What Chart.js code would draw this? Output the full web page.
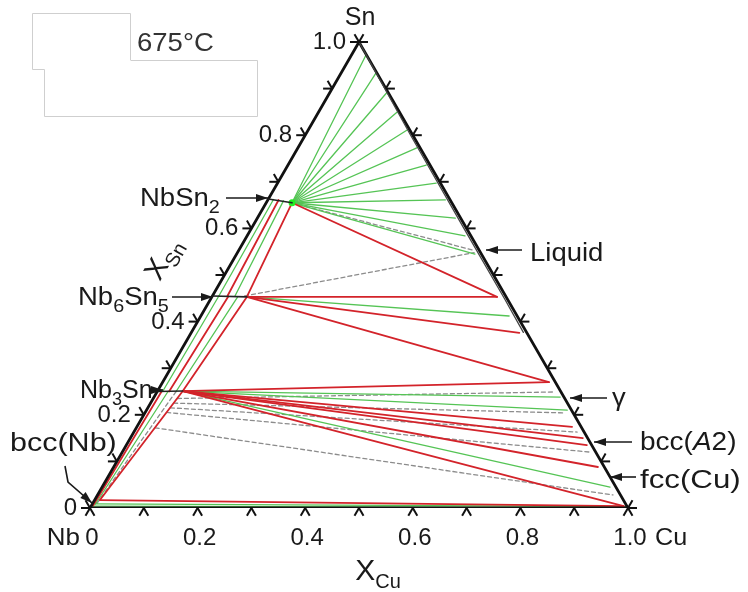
<!DOCTYPE html>
<html>
<head>
<meta charset="utf-8">
<script src="https://cdn.jsdelivr.net/npm/chart.js@4.4.0/dist/chart.umd.min.js"></script>
<style>
  html, body { margin: 0; padding: 0; background: #fff; }
  canvas { display: block; }
</style>
</head>
<body>
<canvas id="chart" width="748" height="592"></canvas>
<script>
// Ternary Nb–Cu–Sn isothermal section, 675°C. Points are [xCu, xSn].
const H = Math.sqrt(3) / 2;

// ── Phase vertices ──────────────────────────────────────────────────────────
const vNbSn2  = [0.048, 0.655];
const vNb6Sn5 = [0.065, 0.453];
const vNb3Sn  = [0.047, 0.251];
const vBcc    = [0.010, 0.017];
const vLiq    = [0.530, 0.453];
const vGamma  = [0.718, 0.270];
const vFcc    = [0.990, 0.004];

const liquidLine = [[0, 1], [0.196, 0.800], [0.395, 0.600], [0.545, 0.450], [0.617, 0.377]];

// tie-line ends (other end is the named vertex)
const greenFromNbSn2 = [
  [0.027, 0.972], [0.065, 0.933], [0.106, 0.891], [0.146, 0.850], [0.184, 0.811],
  [0.221, 0.773], [0.257, 0.736], [0.295, 0.697], [0.330, 0.661], [0.368, 0.622],
  [0.405, 0.584], [0.443, 0.545]
];
const redFromNb6Sn5   = [vLiq, [0.610, 0.376], vGamma];
const greenFromNb6Sn5 = [[0.573, 0.412]];
const redFromNb3Sn    = [vGamma, [0.809, 0.174], [0.841, 0.150], [0.856, 0.135], [0.900, 0.088], vFcc, vBcc, vNb6Sn5];
const greenFromNb3Sn  = [[0.755, 0.238], [0.782, 0.210], [0.944, 0.045]];

const redTies = [
  [vNbSn2, vNb6Sn5], [vNbSn2, vLiq], [vBcc, vFcc],
  [[0.020, 0.661], [0.028, 0.455]],
  [[0.030, 0.454], [0.022, 0.250]],
  [[0.008, 0.250], [0.003, 0.005]]
];
const greenTies = [
  [[0.010, 0.662], [0.012, 0.455]],
  [[0.030, 0.659], [0.042, 0.454]],
  [[0.012, 0.455], [0.010, 0.250]],
  [[0.048, 0.453], [0.035, 0.250]],
  [[0.020, 0.250], [0.006, 0.008]],
  [[0.006, 0.009], [0.995, 0.003]],
  [[0.004, 0.004], [0.996, 0.001]]
];
const dashedTies = [
  [vNbSn2, [0.437, 0.553]],
  [[0.060, 0.455], [0.440, 0.548]],
  [[0.035, 0.250], [0.008, 0.010]],
  [[0.045, 0.235], [0.740, 0.249]],
  [[0.043, 0.225], [0.781, 0.204]],
  [[0.042, 0.215], [0.824, 0.163]],
  [[0.040, 0.205], [0.869, 0.120]],
  [[0.035, 0.172], [0.958, 0.028]]
];
const phaseBars = [
  [[0, 0.663], vNbSn2],
  [[0, 0.455], vNb6Sn5],
  [[0, 0.250], vNb3Sn]
];

const tickValues  = [0, 0.1, 0.2, 0.3, 0.4, 0.5, 0.6, 0.7, 0.8, 0.9, 1.0];
const tickLabels  = ["0", "0.2", "0.4", "0.6", "0.8", "1.0"];
const labelValues = [0, 0.2, 0.4, 0.6, 0.8, 1.0];

// ── Helpers ────────────────────────────────────────────────────────────────
function tern(p) { return { x: p[0] + p[1] / 2, y: p[1] * H }; }

const RED   = { borderColor: "#d3232a", borderWidth: 1.8, order: 1 };
const GREEN = { borderColor: "#55c455", borderWidth: 1.3, order: 2 };
const DASH  = { borderColor: "#8c8c8c", borderWidth: 1.3, borderDash: [4, 3], order: 3 };

function line(points, style) {
  return Object.assign({ data: points.map(tern), showLine: true, pointRadius: 0, fill: false, tension: 0 }, style);
}

const datasets = [];
redTies.forEach((s) => datasets.push(line(s, RED)));
redFromNb6Sn5.forEach((p) => datasets.push(line([vNb6Sn5, p], RED)));
redFromNb3Sn.forEach((p) => datasets.push(line([vNb3Sn, p], RED)));
greenTies.forEach((s) => datasets.push(line(s, GREEN)));
greenFromNbSn2.forEach((p) => datasets.push(line([vNbSn2, p], GREEN)));
greenFromNb6Sn5.forEach((p) => datasets.push(line([vNb6Sn5, p], GREEN)));
greenFromNb3Sn.forEach((p) => datasets.push(line([vNb3Sn, p], GREEN)));
dashedTies.forEach((s) => datasets.push(line(s, DASH)));
phaseBars.forEach((s) => datasets.push(line(s, { borderColor: "#222", borderWidth: 1.6, order: 0 })));
datasets.push(line(liquidLine, { borderColor: "#444", borderWidth: 1.3, order: 0 }));
datasets.push(line([[0, 0], [1, 0], [0, 1], [0, 0]], { borderColor: "#111", borderWidth: 2.8, order: 0 }));
datasets.push({ data: [tern(vNbSn2)], pointRadius: 3.5, pointBackgroundColor: "#22ee22", pointBorderWidth: 0, order: 0 });

// ── Text / ticks ─────────────────────────────────────────────────────────────
const FAMILY = '"Liberation Sans", Arial, sans-serif';

function runs(ctx, list, x, y, align, sx) {
  sx = sx || 1;
  const fontOf = (r) => `${r[3] ? "italic " : ""}${r[1]}px ${FAMILY}`;
  let w = 0;
  list.forEach((r) => { ctx.font = fontOf(r); w += ctx.measureText(r[0]).width; });
  const x0 = align === "right" ? x - w * sx : align === "center" ? x - w * sx / 2 : x;
  ctx.save();
  ctx.translate(x0, y);
  ctx.scale(sx, 1);
  let cx = 0;
  list.forEach((r) => {
    ctx.font = fontOf(r);
    ctx.fillText(r[0], cx, r[2] || 0);
    cx += ctx.measureText(r[0]).width;
  });
  ctx.restore();
}

function arrow(ctx, pts) {
  ctx.beginPath();
  ctx.moveTo(pts[0][0], pts[0][1]);
  for (let i = 1; i < pts.length; i++) ctx.lineTo(pts[i][0], pts[i][1]);
  ctx.stroke();
  const [x1, y1] = pts[pts.length - 2], [x2, y2] = pts[pts.length - 1];
  const a = Math.atan2(y2 - y1, x2 - x1);
  ctx.beginPath();
  ctx.moveTo(x2, y2);
  ctx.lineTo(x2 - 12 * Math.cos(a) + 4 * Math.sin(a), y2 - 12 * Math.sin(a) - 4 * Math.cos(a));
  ctx.lineTo(x2 - 12 * Math.cos(a) - 4 * Math.sin(a), y2 - 12 * Math.sin(a) + 4 * Math.cos(a));
  ctx.closePath();
  ctx.fill();
}

const decor = {
  id: "decor",
  beforeDraw(chart) {
    const ctx = chart.ctx;
    ctx.save();
    ctx.fillStyle = "#fff";
    ctx.fillRect(0, 0, chart.width, chart.height);
    ctx.strokeStyle = "#cfcfcf";
    ctx.lineWidth = 1;
    ctx.beginPath();
    ctx.moveTo(130.5, 60); ctx.lineTo(130.5, 13.5); ctx.lineTo(32.5, 13.5); ctx.lineTo(32.5, 69.5); ctx.lineTo(44.5, 69.5);
    ctx.moveTo(130.5, 60.5); ctx.lineTo(257.5, 60.5); ctx.lineTo(257.5, 116.5); ctx.lineTo(44.5, 116.5); ctx.lineTo(44.5, 69.5);
    ctx.stroke();
    ctx.restore();
  },
  afterDraw(chart) {
    const ctx = chart.ctx;
    const sx = chart.scales.x, sy = chart.scales.y;
    const P = (c, s) => ({ x: sx.getPixelForValue(c + s / 2), y: sy.getPixelForValue(s * H) });
    ctx.save();
    ctx.strokeStyle = "#111";
    ctx.lineWidth = 2;
    const L = 9, cs = 0.5, sn = H;
    const tick = (p, dirs) => {
      dirs.forEach(([dx, dy]) => {
        ctx.beginPath(); ctx.moveTo(p.x, p.y); ctx.lineTo(p.x + dx * L, p.y + dy * L); ctx.stroke();
      });
    };
    tickValues.forEach((v) => {
      tick(P(v, 0), [[-cs, sn], [cs, sn]]);
      tick(P(0, v), [[-1, 0], [-cs, -sn]]);
      tick(P(1 - v, v), [[1, 0], [cs, -sn]]);
    });

    ctx.fillStyle = "#1a1a1a";
    labelValues.forEach((v, i) => {
      const b = P(v, 0);
      runs(ctx, [[tickLabels[i], 24]], b.x + 2, 545, "center");
      const l = P(0, v);
      runs(ctx, [[tickLabels[i], 24]], l.x - 13, l.y + 7, "right");
    });

    // corners
    runs(ctx, [["Sn", 25]], 360, 25, "center");
    runs(ctx, [["Nb", 24]], 80, 545, "right", 1.08);
    runs(ctx, [["Cu", 24]], 655, 545, "left", 1.05);

    // axis titles
    runs(ctx, [["X", 30], ["Cu", 20, 8]], 378, 580, "center");
    ctx.save();
    ctx.translate(162, 258);
    ctx.rotate(-Math.PI / 3);
    runs(ctx, [["X", 29], ["Sn", 20, 7]], 0, 10, "center");
    ctx.restore();

    // temperature
    ctx.fillStyle = "#333";
    runs(ctx, [["675°C", 25]], 137, 51, "left", 1.1);

    // phase labels
    ctx.fillStyle = "#1a1a1a";
    runs(ctx, [["NbSn", 25], ["2", 18, 7]], 140, 206, "left", 1.1);
    runs(ctx, [["Nb", 25], ["6", 18, 7], ["Sn", 25], ["5", 18, 7]], 78, 305, "left", 1.1);
    runs(ctx, [["Nb", 25], ["3", 18, 7], ["Sn", 25]], 80, 398, "left", 1.0);
    runs(ctx, [["bcc(Nb)", 25]], 10, 451, "left", 1.22);
    runs(ctx, [["Liquid", 25]], 530, 261, "left", 1.1);
    runs(ctx, [["γ", 25]], 612, 406, "left", 1.1);
    runs(ctx, [["bcc(", 25], ["A", 25, 0, true], ["2)", 25]], 640, 450, "left", 1.12);
    runs(ctx, [["fcc(Cu)", 25]], 640, 488, "left", 1.25);

    ctx.strokeStyle = "#1a1a1a";
    ctx.lineWidth = 1.6;
    arrow(ctx, [[226, 198], [268, 198]]);
    arrow(ctx, [[172, 297], [213, 297]]);
    arrow(ctx, [[149, 390], [163, 390]]);
    arrow(ctx, [[65, 466], [68, 482], [92, 503]]);
    arrow(ctx, [[522, 250], [486, 250]]);
    arrow(ctx, [[607, 398], [570, 398]]);
    arrow(ctx, [[632, 442], [594, 442]]);
    arrow(ctx, [[636, 477], [610, 477]]);
    ctx.restore();
  }
};

new Chart(document.getElementById("chart"), {
  type: "scatter",
  data: { datasets },
  options: {
    responsive: false,
    devicePixelRatio: 1,
    animation: false,
    events: [],
    layout: { padding: { left: 90, right: 120, top: 42, bottom: 84 } },
    scales: {
      x: { type: "linear", min: 0, max: 1, display: false },
      y: { type: "linear", min: 0, max: H, display: false }
    },
    plugins: { legend: { display: false }, tooltip: { enabled: false } },
    elements: { line: { borderCapStyle: "round" } }
  },
  plugins: [decor]
});
</script>
</body>
</html>
